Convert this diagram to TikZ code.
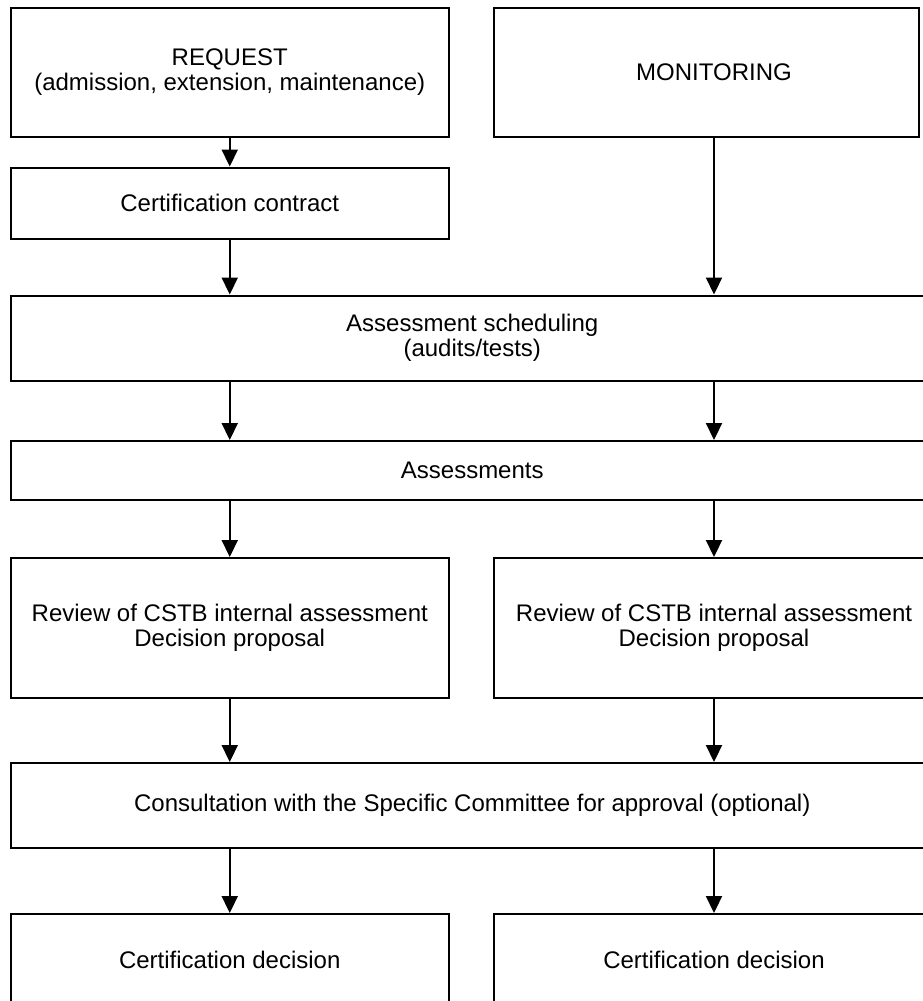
\documentclass[tikz,border=0pt]{standalone}
\usepackage{fontspec}
\setmainfont{Liberation Sans}
\usetikzlibrary{arrows.meta}

\begin{document}
\begin{tikzpicture}[x=0.5pt, y=-0.5pt, >={Triangle[width=8pt, length=8.5pt]},
    block/.style={draw, line width=1pt, align=center, inner sep=0pt, font=\fontsize{12}{12.5}\selectfont},
    left block/.style={block, minimum width=219.25pt},
    right block/.style={block, minimum width=220pt},
    wide block/.style={block, minimum width=461.75pt},
    flow/.style={->, line width=1.1pt},]
    \useasboundingbox (0,0) rectangle (922,1001);
    \node[left block, minimum height=64.25pt] (request) at (229.75,72.25) {REQUEST\\(admission, extension, maintenance)};
    \node[block, minimum width=212.5pt, minimum height=64.25pt] (monitor) at (706.5,72.25) {\hspace*{7.5pt}MONITORING};
    \node[left block, minimum height=35.75pt] (contract) at (229.75,203.25) {Certification contract};
    \node[wide block, minimum height=42.75pt] (sched) at (472.25,338.25) {Assessment scheduling\\(audits/tests)};
    \node[wide block, minimum height=29.5pt] (assess) at (472.25,470.5) {Assessments};
    \node[left block, minimum height=70pt] (reviewL) at (229.75,628) {Review of CSTB internal assessment\\Decision proposal};
    \node[right block, minimum height=70pt] (reviewR) at (714,628) {Review of CSTB internal assessment\\Decision proposal};
    \node[wide block, minimum height=42.5pt] (consult) at (472.25,805.5) {Consultation with the Specific Committee for approval (optional)};
    \node[left block, minimum height=46pt] (decisionL) at (229.75,960) {Certification decision};
    \node[right block, minimum height=46pt] (decisionR) at (714,960) {Certification decision};
    \draw[flow] (request) -- (contract);
    \draw[flow] (contract.south) -- (contract.south |- sched.north);
    \draw[flow] (monitor.south -| reviewR) -- (sched.north -| reviewR);
    \draw[flow] (sched.south -| reviewL) -- (assess.north -| reviewL);
    \draw[flow] (sched.south -| reviewR) -- (assess.north -| reviewR);
    \draw[flow] (assess.south -| reviewL) -- (reviewL);
    \draw[flow] (assess.south -| reviewR) -- (reviewR);
    \draw[flow] (reviewL) -- (reviewL |- consult.north);
    \draw[flow] (reviewR) -- (reviewR |- consult.north);
    \draw[flow] (consult.south -| decisionL) -- (decisionL);
    \draw[flow] (consult.south -| decisionR) -- (decisionR);
\end{tikzpicture}
\end{document}
